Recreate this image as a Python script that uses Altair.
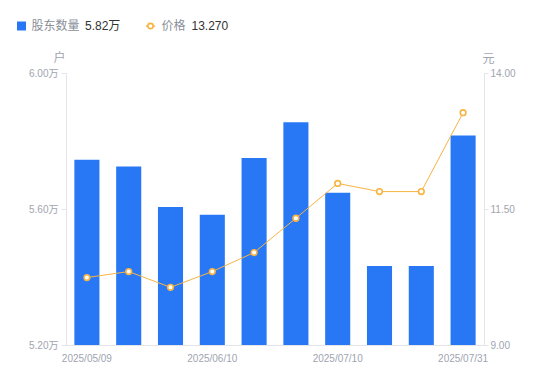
import altair as alt
import pandas as pd

dates = ["2025/05/09", "2025/05/20", "2025/05/30", "2025/06/10", "2025/06/20",
         "2025/06/30", "2025/07/10", "2025/07/18", "2025/07/25", "2025/07/31"]
holders = [5.745, 5.725, 5.606, 5.583, 5.750, 5.855, 5.648, 5.432, 5.432, 5.816]  # 万户
prices = [10.24, 10.35, 10.06, 10.35, 10.70, 11.33, 11.97, 11.82, 11.82, 13.27]
tick_dates = [dates[0], dates[3], dates[6], dates[9]]
left_ticks = [5.2, 5.6, 6.0]
right_ticks = [9.0, 11.5, 14.0]
legend_names = ["股东数量", "价格"]
legend_values = [f"{holders[-1]:.2f}万", f"{prices[-1]:.3f}"]

df = pd.DataFrame({"date": dates, "holders": holders, "price": prices})

FONT = "Liberation Sans, Noto Sans CJK SC, sans-serif"
BLUE = "#2878F5"
ORANGE = "#F8B443"
LABEL = "#A0A4B0"
DOMAIN = "#E3E5EA"

x = alt.X("date:O", sort=None, title=None,
          scale=alt.Scale(paddingInner=0.4, paddingOuter=0.2),
          axis=alt.Axis(values=tick_dates, labelAngle=0, ticks=False, labelPadding=8,
                        domainColor=DOMAIN, labelColor=LABEL, labelFontSize=10))

bars = alt.Chart(df).mark_bar(color=BLUE).encode(
    x=x,
    y=alt.Y("holders:Q",
            scale=alt.Scale(domain=[left_ticks[0], left_ticks[-1]], zero=False, nice=False),
            axis=alt.Axis(values=left_ticks, labelExpr="format(datum.value,'.2f')+'万'",
                          title="户", titleAngle=0, titleX=-7, titleY=-16,
                          titleAlign="center", titleBaseline="middle",
                          titleColor=LABEL, titleFontSize=12, titleFontWeight="normal",
                          tickSize=5, tickColor=DOMAIN, labelPadding=3,
                          domainColor=DOMAIN, labelColor=LABEL, labelFontSize=10)),
    y2=alt.datum(left_ticks[0]),
)

line = alt.Chart(df).mark_line(
    color=ORANGE, strokeWidth=1,
    point=alt.OverlayMarkDef(filled=False, fill="white", stroke=ORANGE, strokeWidth=1.6, size=32, opacity=1),
).encode(
    x=x,
    y=alt.Y("price:Q",
            scale=alt.Scale(domain=[right_ticks[0], right_ticks[-1]], zero=False, nice=False),
            axis=alt.Axis(orient="right", values=right_ticks, format=".2f",
                          title="元", titleAngle=0, titleX=4, titleY=-15,
                          titleAlign="center", titleBaseline="middle",
                          titleColor=LABEL, titleFontSize=12, titleFontWeight="normal",
                          tickSize=4, tickColor=DOMAIN, labelPadding=2,
                          domainColor=DOMAIN, labelColor=LABEL, labelFontSize=10)),
)

LY = -47


def legend_text(txt, xpos, color):
    return alt.Chart(pd.DataFrame({"t": [txt]})).mark_text(
        align="left", baseline="middle", fontSize=12, color=color, font=FONT
    ).encode(text="t:N", x=alt.value(xpos), y=alt.value(LY))


one = pd.DataFrame({"k": [0]})
leg_square = alt.Chart(one).mark_square(color=BLUE, size=81, opacity=1).encode(
    x=alt.value(-44.5), y=alt.value(LY))
leg_rule = alt.Chart(one).mark_rule(color=ORANGE, strokeWidth=1.5).encode(
    x=alt.value(80), x2=alt.value(89), y=alt.value(LY))
leg_circle = alt.Chart(one).mark_point(shape="circle", filled=False, fill="white", stroke=ORANGE,
                                       strokeWidth=1.6, size=28, opacity=1).encode(
    x=alt.value(84.5), y=alt.value(LY))

chart = alt.layer(
    bars, line,
    leg_square, legend_text(legend_names[0], -34.5, "#8A8F99"), legend_text(legend_values[0], 19, "#333333"),
    leg_rule, leg_circle, legend_text(legend_names[1], 95.5, "#8A8F99"), legend_text(legend_values[1], 125.5, "#333333"),
).resolve_scale(y="independent").properties(
    width=418, height=272,
    autosize="none",
    padding={"left": 58, "top": 65, "right": 58, "bottom": 28},
).configure_view(stroke=None).configure_axis(
    grid=False, labelFont=FONT, titleFont=FONT
)

chart.save("out.html", embed_options={"renderer": "svg", "actions": False})
